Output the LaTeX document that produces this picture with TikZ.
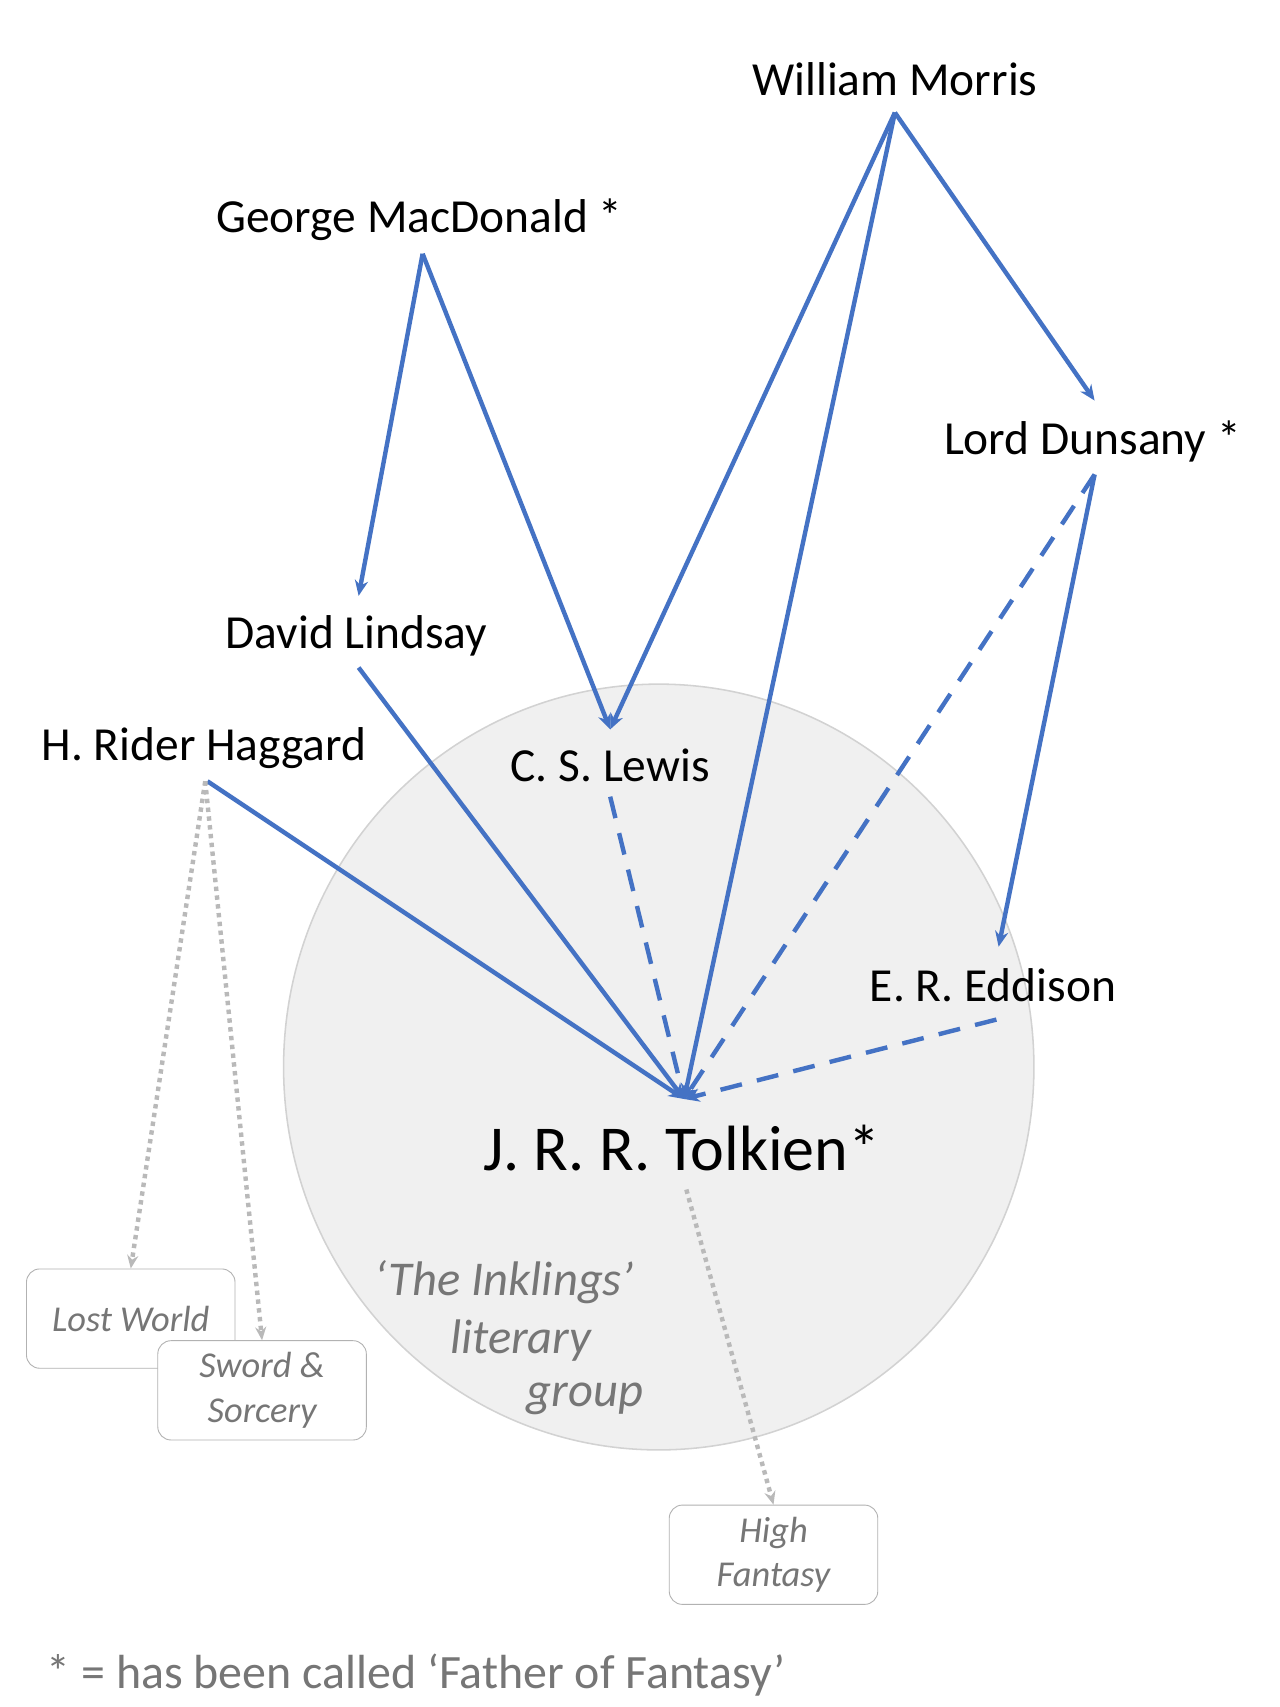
\documentclass[tikz,border=0pt]{standalone}
\usepackage{fontspec}
\setmainfont{Carlito}
\usetikzlibrary{arrows.meta}
\definecolor{blu}{RGB}{68,114,196}
\definecolor{gtxt}{RGB}{118,118,118}
\begin{document}
\begin{tikzpicture}[x=0.5pt,y=-0.5pt,
 auth/.style={font=\fontsize{21.5}{25}\selectfont,anchor=center,inner sep=0},
 inf/.style={blu,line width=2pt,-{Stealth[length=7pt,width=6pt]}},
 infd/.style={inf,dash pattern=on 10pt off 7pt},
 gen/.style={gray!55,line width=2pt,dash pattern=on 2pt off 2pt,-{Stealth[length=6pt,width=5pt]}},
 box/.style={draw=gray!60,rounded corners=6pt,fill=white,minimum width=94.5pt,minimum height=45pt,align=center,text=gtxt,font=\fontsize{16.5}{20}\selectfont\itshape}]
\useasboundingbox (0,0) rectangle (1160,1547);
\fill[white] (0,0) rectangle (1160,1547);
\draw[fill=gray!12,draw=gray!35,line width=0.7pt] (597,967) ellipse [x radius=340,y radius=347];
\node[auth] (morris) at (811,72) {William Morris};
\node[auth] (macd) at (380,199) {George MacDonald *};
\node[auth] (duns) at (990,400) {Lord Dunsany *};
\node[auth] (lind) at (323,576) {David Lindsay};
\node[auth] (hagg) at (185,678) {H. Rider Haggard};
\node[auth] (lewis) at (553,694) {C. S. Lewis};
\node[auth] (edd) at (900,893) {E. R. Eddison};
\node[auth,font=\fontsize{29}{34}\selectfont] (tolk) at (618,1040) {J. R. R. Tolkien*};
\node[text=gtxt,font=\fontsize{22}{26}\selectfont\itshape] (ink1) at (457,1162) {‘The Inklings’};
\node[text=gtxt,font=\fontsize{22}{26}\selectfont\itshape] (ink2) at (472,1215) {literary};
\node[text=gtxt,font=\fontsize{22}{26}\selectfont\itshape] (ink3) at (530,1268) {group};
\node[box] (lost) at (118.5,1195) {Lost World};
\node[box] (sword) at (237.5,1260) {Sword \&\\Sorcery};
\node[box] (high) at (701,1409) {High\\Fantasy};
\node[text=gtxt,font=\fontsize{21.7}{25}\selectfont,anchor=west,inner sep=0] (foot) at (42,1518) {* = has been called ‘Father of Fantasy’};
% anchor coordinates
\coordinate (macdB) at (383,230);
\coordinate (morrisB) at (811,102);
\coordinate (dunsT) at (992,363);
\coordinate (dunsB) at (992,430);
\coordinate (lindT) at (325,540);
\coordinate (lindB) at (325,605);
\coordinate (haggB) at (188,708);
\coordinate (haggG) at (186,708);
\coordinate (lewisT) at (553,661);
\coordinate (lewisB) at (553,722);
\coordinate (eddT) at (905,858);
\coordinate (eddB) at (903,924);
\coordinate (tolkT) at (620,996);
\coordinate (tolkB) at (622,1078);
\draw[inf] (macdB) -- (lindT);
\draw[inf] (macdB) -- (lewisT);
\draw[inf] (morrisB) -- (lewisT);
\draw[inf] (morrisB) -- (tolkT);
\draw[inf] (morrisB) -- (dunsT);
\draw[inf] (dunsB) -- (eddT);
\draw[infd] (dunsB) -- (tolkT);
\draw[inf] (lindB) -- (tolkT);
\draw[inf] (haggB) -- (tolkT);
\draw[infd] (lewisB) -- (tolkT);
\draw[infd] (eddB) -- (tolkT);
\draw[gen] (haggG) -- (lost.north);
\draw[gen] (haggG) -- (sword.north);
\draw[gen] (tolkB) -- (high.north);
\end{tikzpicture}
\end{document}
